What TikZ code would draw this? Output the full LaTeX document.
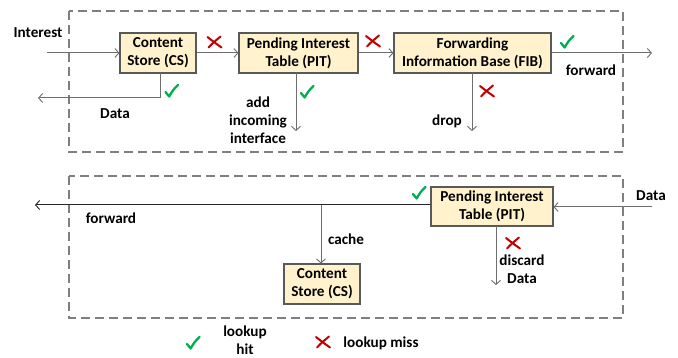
\documentclass[tikz,border=0pt]{standalone}
\usepackage{fontspec}
\setmainfont{Carlito}
\usetikzlibrary{arrows.meta}
\definecolor{boxfill}{HTML}{FFF2CC}
\definecolor{boxline}{HTML}{595959}
\definecolor{lnk}{HTML}{6E6E6E}
\definecolor{dsh}{HTML}{7F7F7F}
\definecolor{okgreen}{HTML}{00B050}
\definecolor{nored}{HTML}{C00000}
\tikzset{
  every node/.style={font=\bfseries\fontsize{15.2}{18}\selectfont, text=black, inner sep=0pt},
  blk/.style={draw=boxline, line width=1.1pt, fill=boxfill, align=center, anchor=center},
  lnkline/.style={draw=lnk, line width=1pt, -{Straight Barb[length=4pt,width=9pt,line width=0.9pt]}},
  frame/.style={draw=dsh, line width=1.5pt, dash pattern=on 9pt off 5pt},
  lbl/.style={align=center},
  chk/.pic={\draw[okgreen, line width=2.3pt, line cap=round, line join=round] (-6,1) -- (-2.3,5.5) .. controls (0,1) and (3,-3) .. (6.5,-6);},
  xm/.pic={\draw[nored, line width=2pt, line cap=round] (-7,-5) .. controls (-2,-1) and (2,2) .. (7,5.5); \draw[nored, line width=2pt, line cap=round] (-6,5.5) .. controls (-2,1) and (2,-2) .. (6,-5.5);},
}
\begin{document}
\begin{tikzpicture}[x=1pt,y=-1pt]
\useasboundingbox (0,0) rectangle (678,358);
% frames
\draw[frame] (69,11) rectangle (623,152);
\draw[frame] (69,176) rectangle (623,318);
% top row
\node[blk, minimum width=76pt, minimum height=40pt] (cs1) at (158,53) {Content\\Store (CS)};
\node[blk, minimum width=119pt, minimum height=40pt] (pit1) at (298.5,53) {Pending Interest\\Table (PIT)};
\node[blk, minimum width=157pt, minimum height=40pt] (fib) at (472.5,53) {Forwarding\\Information Base (FIB)};
\coordinate (inS) at (47,53);
\coordinate (outE) at (652,53);
\coordinate (csdn) at (160,73);
\coordinate (csbend) at (160,98);
\coordinate (dataW) at (38,98);
\coordinate (pitdn) at (296,73);
\coordinate (pitend) at (296,131);
\coordinate (fibdn) at (472,73);
\coordinate (fibend) at (472,131);
\draw[lnkline] (inS) -- (cs1.west);
\draw[lnkline] (cs1.east) -- (pit1.west);
\draw[lnkline] (pit1.east) -- (fib.west);
\draw[lnkline] (fib.east) -- (outE);
\draw[lnkline] (csdn) -- (csbend) -- (dataW);
\draw[lnkline] (pitdn) -- (pitend);
\draw[lnkline] (fibdn) -- (fibend);
\node (tInterest) at (38,33) {Interest};
\node (tData1) at (115,114) {Data};
\node[lbl] (tAdd) at (258,120) {add\\incoming\\interface};
\node (tDrop) at (447,121) {drop};
\node (tFwd1) at (591,70) {forward};
\pic at (171.5,91) {chk};
\pic at (307,92) {chk};
\pic at (567,42) {chk};
\pic at (214.5,42) {xm};
\pic at (373,41) {xm};
\pic at (487,91) {xm};
% bottom row
\node[blk, minimum width=122pt, minimum height=39pt] (pit2) at (492,206.5) {Pending Interest\\Table (PIT)};
\node[blk, minimum width=76pt, minimum height=40pt] (cs2) at (322,284) {Content\\Store (CS)};
\coordinate (dataE) at (652,207);
\coordinate (fwdW) at (35,205);
\coordinate (cacheTop) at (321,205);
\coordinate (discTop) at (496,226);
\coordinate (discEnd) at (496,285);
\draw[lnkline] (dataE) -- (dataE -| pit2.east);
\draw[lnkline, draw=black!85] (pit2.west |- fwdW) -- (fwdW);
\draw[lnkline] (cacheTop) -- (cacheTop |- cs2.north);
\draw[lnkline] (discTop) -- (discEnd);
\node (tData2) at (651,196) {Data};
\node (tFwd2) at (111,218) {forward};
\node (tCache) at (346,239) {cache};
\node[lbl] (tDisc) at (522,269) {discard\\Data};
\pic at (419,193) {chk};
\pic at (513,243) {xm};
% legend
\pic at (193,343) {chk};
\node[lbl] (tHit) at (245,340) {lookup\\hit};
\pic at (323,342) {xm};
\node (tMiss) at (381,343) {lookup miss};
\end{tikzpicture}
\end{document}
